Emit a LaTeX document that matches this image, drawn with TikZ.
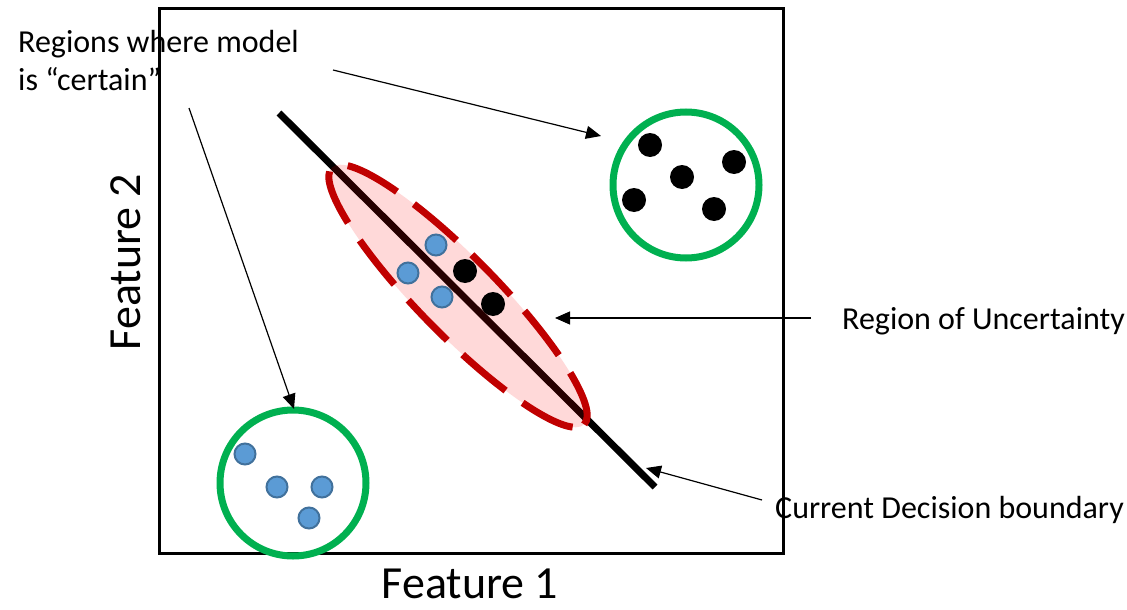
\documentclass[tikz,border=0pt]{standalone}
\usepackage{fontspec}
\setmainfont{Carlito}
\usetikzlibrary{arrows.meta,shapes.geometric}
\definecolor{clustergreen}{RGB}{0,176,80}
\definecolor{dashred}{RGB}{192,0,0}
\definecolor{dotblue}{RGB}{91,155,213}
\definecolor{dotborder}{RGB}{65,113,156}

\begin{document}
\begin{tikzpicture}[
  x=1pt, y=-1pt,
  note/.style     ={inner sep=0pt, font=\fontsize{32}{38}\selectfont, anchor=base west},
  axislabel/.style={inner sep=0pt, font=\fontsize{46}{52}\selectfont, anchor=base},
  cluster/.style  ={draw=clustergreen, circle, line width=7pt, minimum size=146pt, inner sep=0pt},
  bluedot/.style  ={circle, fill=dotblue, draw=dotborder, line width=2pt, minimum size=21pt, inner sep=0pt},
  blackdot/.style ={circle, fill=black, minimum size=24pt, inner sep=0pt},
  arr/.style      ={-{Triangle[length=15pt, width=13pt]}, line width=1.2pt}]

\useasboundingbox (0,0) rectangle (1127,610);

% plot frame and axis names
\node[draw, line width=3pt, minimum width=624pt, minimum height=545pt,
      inner sep=0pt, anchor=north west] (frame) at (158,7) {};
\node[axislabel]            (feat1) at (470,598) {Feature 1};
\node[axislabel, rotate=90] (feat2) at (140,262) {Feature 2};

% decision boundary and uncertain band
\coordinate (bnd top) at (279,113);
\coordinate (bnd end) at (655,487);
\draw[line width=7pt] (bnd top) -- (bnd end);
\node[ellipse, draw=dashred, fill=red, fill opacity=0.15, draw opacity=1,
      line width=7pt, dash pattern=on 56pt off 21pt,
      minimum width=360pt, minimum height=78pt, inner sep=0pt, rotate=-45.5] (band) at (458,296) {};

% certain clusters
\node[cluster] (clusterA) at (686,185) {};
\node[cluster] (clusterB) at (293,483) {};

% points
\foreach \x/\y [count=\i] in {650/145, 734/162, 682/177, 634/200, 714/209, 465/271, 493/304}
  \node[blackdot] (k\i) at (\x,\y) {};
\foreach \x/\y [count=\i] in {245/454, 277/487, 322/487, 309/518, 436/245, 408/273, 442/297}
  \node[bluedot] (b\i) at (\x,\y) {};

% labels
\node[note, align=left] (certain) at (18,91) {Regions where model\\is “certain”};
\node[note] (uncertain) at (842,329) {Region of Uncertainty};
\node[note] (boundary)  at (775,518) {Current Decision boundary};

% pointers
\coordinate (tailA) at (333,70);
\coordinate (tipA)  at (601,136);
\coordinate (tailB) at (189,108);
\coordinate (tipB)  at (294,409);
\coordinate (tailC) at (811,318);
\coordinate (tipC)  at (555,318);
\coordinate (tailD) at (762,500);
\coordinate (tipD)  at (646,468);
\draw[arr] (tailA) -- (tipA);
\draw[arr] (tailB) -- (tipB);
\draw[arr] (tailC) -- (tipC);
\draw[arr] (tailD) -- (tipD);
\end{tikzpicture}
\end{document}
